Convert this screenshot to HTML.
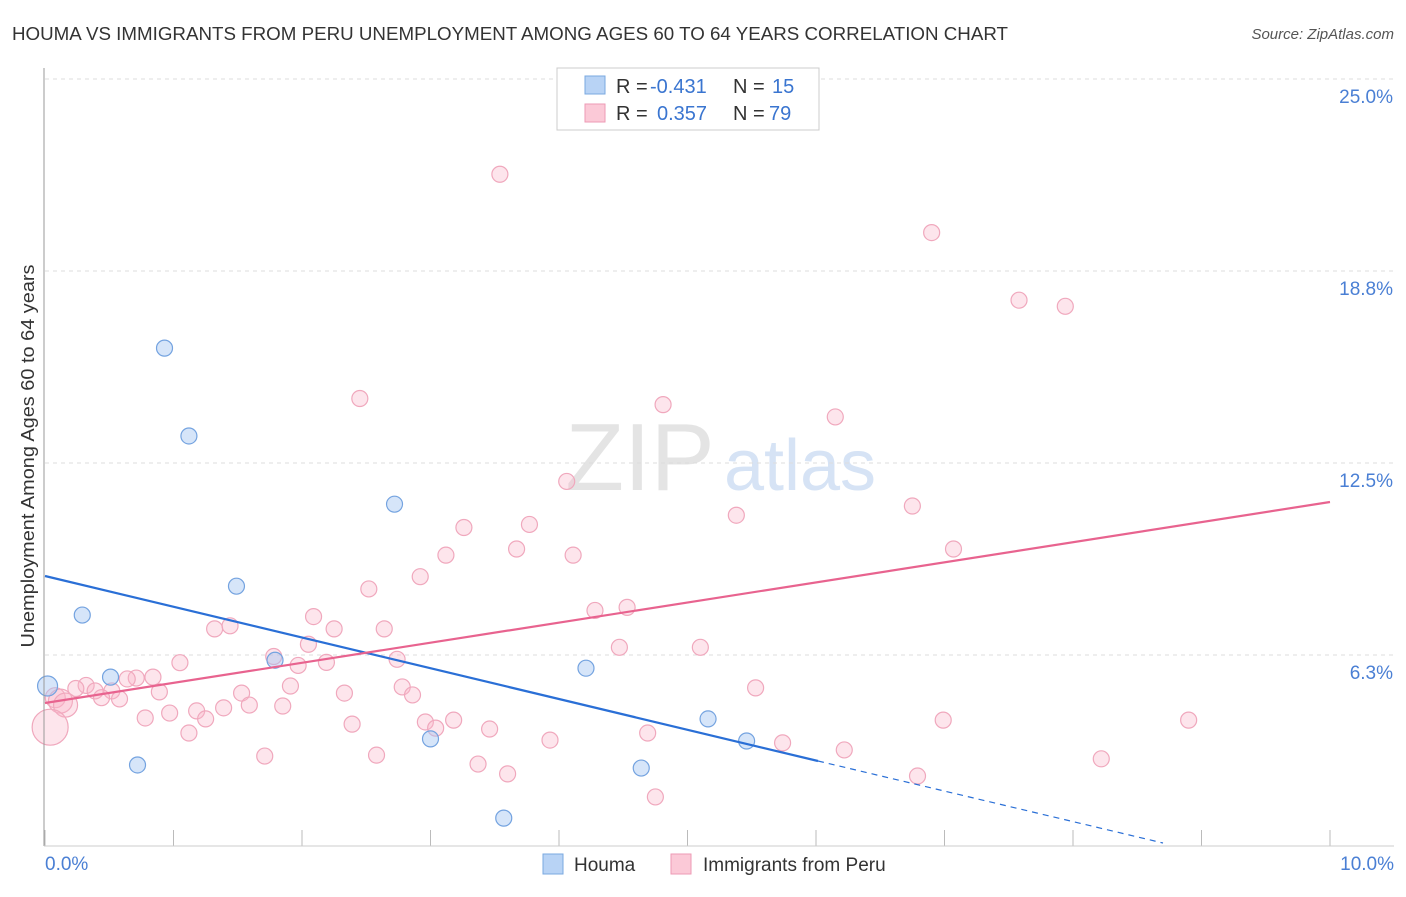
<!DOCTYPE html>
<html><head><meta charset="utf-8"><style>
body{margin:0;background:#fff;font-family:"Liberation Sans",sans-serif;}
svg text{font-family:"Liberation Sans",sans-serif;}
</style></head><body>
<svg width="1406" height="892">
<text x="12" y="40" font-size="18" fill="#333" textLength="996" lengthAdjust="spacingAndGlyphs">HOUMA VS IMMIGRANTS FROM PERU UNEMPLOYMENT AMONG AGES 60 TO 64 YEARS CORRELATION CHART</text>
<text x="1394" y="39" font-size="15" fill="#555" text-anchor="end" font-style="italic">Source: ZipAtlas.com</text>
<text x="640" y="490" font-size="96" fill="#e4e4e4" text-anchor="middle" font-family="Liberation Serif">ZIP</text>
<text x="800" y="490" font-size="72" fill="#d6e3f5" text-anchor="middle">atlas</text>
<g id="grid"></g>
<g id="marks"></g>
<line x1="44" y1="68" x2="44" y2="846" stroke="#999"/>
<line x1="44" y1="846" x2="1394" y2="846" stroke="#ccc"/>
<text x="34" y="456" font-size="18" fill="#333" text-anchor="middle" textLength="383" lengthAdjust="spacingAndGlyphs" transform="rotate(-90 34 456)">Unemployment Among Ages 60 to 64 years</text>
<text x="45" y="870" font-size="19" fill="#4a7fd4">0.0%</text>
<text x="1394" y="870" font-size="19" fill="#4a7fd4" text-anchor="end">10.0%</text>
<g>
<rect x="557" y="68" width="262" height="62" fill="#fff" stroke="#ccc"/>
<rect x="585" y="76" width="20" height="18" fill="#b8d3f5" stroke="#7aa8e0"/>
<rect x="585" y="104" width="20" height="18" fill="#fbc9d7" stroke="#ee9ab4"/>
<text x="616" y="93" font-size="20" fill="#333">R =</text>
<text x="650" y="93" font-size="20" fill="#3a75d0">-0.431</text>
<text x="733" y="93" font-size="20" fill="#333">N =</text>
<text x="772" y="93" font-size="20" fill="#3a75d0">15</text>
<text x="616" y="120" font-size="20" fill="#333">R =</text>
<text x="657" y="120" font-size="20" fill="#3a75d0">0.357</text>
<text x="733" y="120" font-size="20" fill="#333">N =</text>
<text x="769" y="120" font-size="20" fill="#3a75d0">79</text>
</g>
<g>
<rect x="543" y="854" width="20" height="20" fill="#b8d3f5" stroke="#7aa8e0"/>
<text x="574" y="871" font-size="19" fill="#333">Houma</text>
<rect x="671" y="854" width="20" height="20" fill="#fbc9d7" stroke="#ee9ab4"/>
<text x="703" y="871" font-size="19" fill="#333">Immigrants from Peru</text>
</g>
</svg>
<script>
const yTicks=[25.0,18.8,12.5,6.3];
const yTickVals=[25,18.75,12.5,6.25];
const xTickVals=[0,1,2,3,4,5,6,7,8,9,10];
const houmaX=[0.02,0.29,0.51,0.72,0.93,1.12,1.49,1.79,2.72,3.00,3.57,4.21,4.64,5.16,5.46];
const houmaY=[5.24,7.55,5.53,2.67,16.24,13.38,8.49,6.08,11.16,3.52,0.94,5.82,2.57,4.17,3.45];
const peruX=[3.54,6.90,7.58,7.94,2.45,4.81,6.15,4.06,3.26,3.77,5.38,6.75,3.67,3.12,4.11,7.07,2.92,2.52,4.28,4.53,2.09,1.32,1.44,2.25,2.64,2.05,4.47,5.10,1.78,1.05,0.71,0.84,0.64,0.32,0.24,0.39,0.52,0.89,0.44,0.58,1.97,2.19,2.74,1.91,2.78,2.86,1.53,2.33,5.53,0.08,0.12,0.16,0.04,0.78,0.97,1.18,1.39,1.59,1.85,1.25,1.12,2.39,2.96,3.04,3.18,3.46,4.69,6.99,8.90,1.71,2.58,3.37,3.60,3.93,5.74,6.22,6.79,8.22,4.75];
const peruY=[21.9,20.0,17.8,17.6,14.6,14.4,14.0,11.9,10.4,10.5,10.8,11.1,9.7,9.5,9.5,9.7,8.8,8.4,7.7,7.8,7.5,7.1,7.2,7.1,7.1,6.6,6.5,6.5,6.2,6.0,5.50,5.53,5.47,5.26,5.16,5.08,5.08,5.05,4.86,4.82,5.91,6.01,6.11,5.24,5.21,4.95,5.01,5.01,5.18,4.86,4.75,4.62,3.9,4.20,4.36,4.43,4.53,4.62,4.59,4.17,3.71,4.00,4.07,3.87,4.13,3.84,3.71,4.13,4.13,2.96,2.99,2.70,2.38,3.48,3.39,3.16,2.31,2.87,1.63];
const peruR=[8,8,8,8,8,8,8,8,8,8,8,8,8,8,8,8,8,8,8,8,8,8,8,8,8,8,8,8,8,8,8,8,8,8,8,8,8,8,8,8,8,8,8,8,8,8,8,8,8,10,12,12,18,8,8,8,8,8,8,8,8,8,8,8,8,8,8,8,8,8,8,8,8,8,8,8,8,8,8];
const X=v=>45+v*128.5, Y=v=>847-v*30.72;
const NS='http://www.w3.org/2000/svg';
const grid=document.getElementById('grid'), marks=document.getElementById('marks');
function mk(tag,attrs,parent){const e=document.createElementNS(NS,tag);for(const k in attrs)e.setAttribute(k,attrs[k]);parent.appendChild(e);return e;}
yTickVals.forEach((v,i)=>{
 const l=mk('line',{x1:45,x2:1394,y1:Y(v),y2:Y(v),stroke:'#ddd','stroke-dasharray':'4,4'},grid);
 
 
 const t=mk('text',{x:1393,y:Y(v)+24,'font-size':19,fill:'#4a7fd4','text-anchor':'end'},grid);
 t.textContent=yTicks[i].toFixed(1)+'%';
 
 
});
xTickVals.forEach(v=>{
 const l=mk('line',{x1:X(v),x2:X(v),y1:830,y2:846,stroke:'#bbb'},grid);
 
 
});
peruX.forEach((x,i)=>{
 const c=mk('circle',{cx:X(x),cy:Y(peruY[i]),r:peruR[i],fill:'rgba(248,180,200,0.35)',stroke:'#f0a8bd','stroke-width':1.2},marks);
 
 
});
houmaX.forEach((x,i)=>{
 const c=mk('circle',{cx:X(x),cy:Y(houmaY[i]),r:i==0?10:8,fill:'rgba(165,198,242,0.45)',stroke:'#74a3e0','stroke-width':1.2},marks);
 
 
});
const bl=mk('line',{x1:X(0),y1:576,x2:818,y2:761,stroke:'#2a6fd6','stroke-width':2.2},marks);


const bd=mk('line',{x1:818,y1:761,x2:1163,y2:843,stroke:'#2a6fd6','stroke-width':1.2,'stroke-dasharray':'6,5'},marks);


const pl=mk('line',{x1:X(0),y1:703,x2:X(10),y2:502,stroke:'#e8638f','stroke-width':2.2},marks);


</script>
</body></html>
